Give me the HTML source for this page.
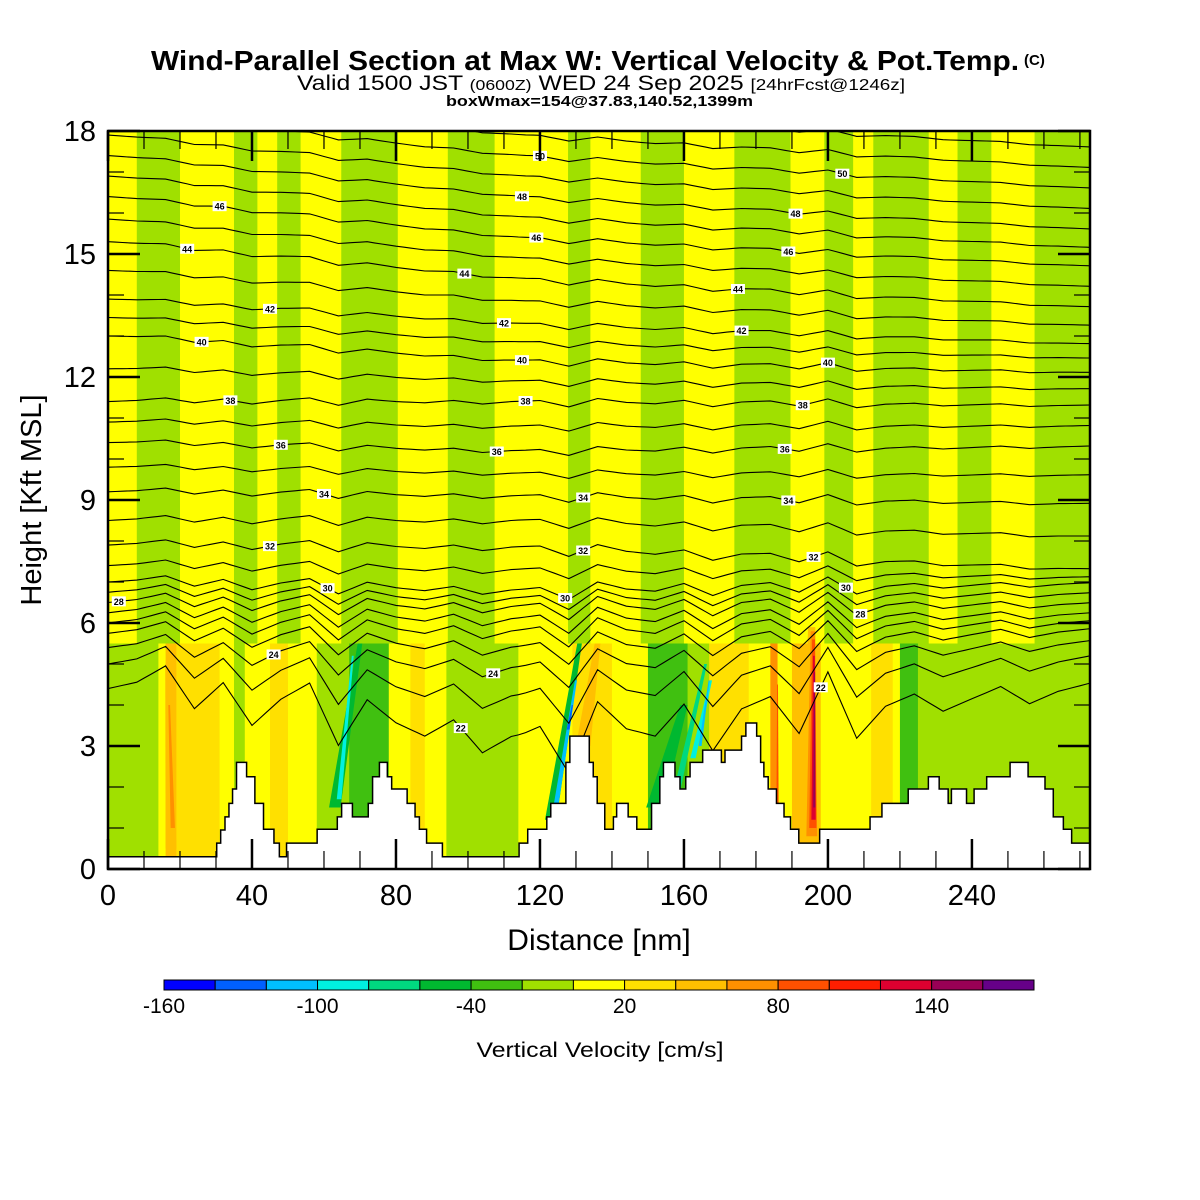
<!DOCTYPE html>
<html><head><meta charset="utf-8"><style>
html,body{margin:0;padding:0;background:#fff;}
svg{display:block;font-family:"Liberation Sans",sans-serif;}
</style></head><body>
<svg id="chart" width="1200" height="1200" viewBox="0 0 1200 1200">
<text x="151" y="70" font-size="28" font-weight="bold" textLength="868" lengthAdjust="spacingAndGlyphs">Wind-Parallel Section at Max W: Vertical Velocity &amp; Pot.Temp.</text>
<text x="1024" y="65" font-size="15" font-weight="bold">(C)</text>
<text x="297" y="90" font-size="21" textLength="608" lengthAdjust="spacingAndGlyphs">Valid 1500 JST <tspan font-size="15">(0600Z)</tspan> WED 24 Sep 2025 <tspan font-size="16">[24hrFcst@1246z]</tspan></text>
<text x="446" y="106" font-size="15" font-weight="bold" textLength="307" lengthAdjust="spacingAndGlyphs">boxWmax=154@37.83,140.52,1399m</text>
<defs><clipPath id="pc"><rect x="108" y="131" width="982" height="738"/></clipPath></defs>
<g id="plot" clip-path="url(#pc)"></g>
<g id="axes"></g>
<text x="599" y="950" text-anchor="middle" font-size="30">Distance [nm]</text>
<text transform="translate(41,500) rotate(-90)" text-anchor="middle" font-size="29">Height [Kft MSL]</text>
<g id="cbar"></g>
<text x="600" y="1057" text-anchor="middle" font-size="21" textLength="247" lengthAdjust="spacingAndGlyphs">Vertical Velocity [cm/s]</text>
</svg>
<script>
// ---- data ----
const colors=["#0000ff","#0060ff","#00c0ff","#00f0e0","#00d880","#00b830","#40c010","#a0e000","#ffff00","#ffe000","#ffc000","#ff9000","#ff5000","#ff1e00","#dd0030","#990055","#660088"];
const cbarTicks=[-160,-100,-40,20,80,140];
const xTicks=[0,40,80,120,160,200,240];
const yTicks=[0,3,6,9,12,15,18];
const upperStarts=[0,8,20,35,41.5,47,53.5,64.8,80.5,94.4,107.4,127.8,134,148,160,174,189.6,199,207,212.6,228,236,245.4,257.4];
const upperVals=[10,-10,10,-10,10,-10,10,-10,10,-10,10,-10,10,-10,10,-10,10,-10,10,-10,10,-10,10,-10];
const lowerStarts=[0,14,16,19,31,35,38,45,50,58,67,78,84,88,94,114,129,140,150,161,167,178,184,186,190,198,212,218,220,225];
const lowerVals=[-10,10,50,30,10,-10,10,30,10,-10,-30,10,30,10,-10,10,30,10,-30,-10,30,10,70,10,50,10,30,10,-30,-10];
const plumeBotNm=[17.5,18,63,64.2,123,124.2,127.8,152,157,162.5,164.5,132,185,186,194.8,195.5,195.8,196,196.2];
const plumeBotK=[0.5,1.0,1.5,1.7,1.2,1.4,3.4,1.5,1.5,2.7,3.0,3.0,1.5,1.6,0.6,0.8,1.0,1.2,1.5];
const plumeTopNm=[16.5,17,70,68,131,130,129,160,166,167.5,167,136,185,186,195.5,195.8,196,196.1,196.3];
const plumeTopK=[5.0,4.0,5.5,5.2,5.5,4.6,4.0,4.0,5.0,4.6,4.6,5.5,4.8,4.5,5.9,5.8,5.6,5.2,4.8];
const plumeW=[3,1.2,3.2,1.3,3.2,1.4,0.8,5,2,1.5,0.8,4,1.5,0.6,5,3,2,1.2,0.6];
const plumeVals=[50,70,-50,-90,-50,-110,-130,-50,-70,-90,-110,50,70,90,50,70,90,130,150];
const terrStarts=[0,30.2,31.3,32.5,33.6,34.6,35.7,38.5,40.8,43.2,46.1,47.6,49.6,58.1,63.7,64.9,67.9,72.3,73.5,75.4,77.6,78.8,83.1,85.3,86.5,88.5,92.9,114.2,116.6,121.9,123,127.2,128.3,133.7,134.8,135.9,138,140.4,141.3,144.5,146.9,151,153.3,154.3,157.5,158.9,160.5,161.7,165.2,170.4,171.4,176,177.2,180.2,181.3,182.2,183.4,185.7,187.8,189.6,191.9,197.7,211.7,215,222.3,227.9,230.9,233.4,234.3,238.5,240.6,244.1,250.6,255.6,260.3,262.6,265.4,267.7];
const terrHeights=[0.3,0.63,0.95,1.27,1.6,1.95,2.6,2.25,1.6,0.97,0.63,0.3,0.63,0.97,1.27,1.6,1.27,1.6,2.25,2.6,2.25,1.95,1.6,1.27,0.97,0.63,0.3,0.63,0.97,1.27,1.6,2.6,3.24,2.6,2.25,1.6,0.97,1.27,1.6,1.27,0.97,1.6,2.25,2.6,2.25,1.95,2.25,2.6,2.9,2.6,2.9,3.24,3.56,3.24,2.6,2.25,1.95,1.6,1.27,0.97,0.63,0.97,1.27,1.6,1.95,2.25,1.95,1.6,1.95,1.6,1.95,2.25,2.6,2.25,1.95,1.27,0.97,0.63];
const thetaLevels=[22,23,24,25,26,27,28,29,30,31,32,33,34,35,36,37,38,39,40,41,42,43,44,45,46,47,48,49,50,51,52,53];
const thetaLeft=[4.4,5.0,5.4,5.75,6.0,6.25,6.5,6.75,7.0,7.4,7.9,8.5,9.2,9.8,10.4,10.9,11.4,12.2,13.0,13.45,13.9,14.6,15.3,15.85,16.4,16.9,17.4,17.9,18.4,18.9,19.4,19.9];
const thetaMid=[3.2,4.2,4.9,5.4,5.8,6.1,6.4,6.6,6.8,7.3,7.85,8.5,9.1,9.65,10.2,10.8,11.4,11.9,12.4,12.85,13.3,13.85,14.4,14.9,15.4,15.9,16.4,16.9,17.4,17.9,18.4,18.9];
const thetaRight=[4.4,5.1,5.5,5.8,6.0,6.2,6.45,6.7,6.95,7.1,7.3,8.1,8.9,9.6,10.3,10.8,11.3,11.7,12.1,12.45,12.8,13.25,13.7,14.2,14.7,15.15,15.6,16.1,16.6,17.1,17.6,18.1];
const thetaAmp=[2.4,1.8,1.3,1.1,1.0,0.9,0.8,0.7,0.6,0.5,0.45,0.4,0.35,0.3,0.3,0.3,0.3,0.28,0.28,0.25,0.25,0.25,0.25,0.22,0.22,0.22,0.2,0.2,0.2,0.2,0.2,0.2];
const wiggle=[0,0.1,0.3,-0.1,0.2,-0.2,0.1,0.3,-0.3,0.2,0,-0.1,0.1,-0.2,0,0.1,-0.4,0.3,0,-0.1,0.2,-0.3,0.1,0.2,-0.2,0.4,-0.3,0,0.1,-0.1,0,0.1,-0.1,0,0.05];
const labelTheta=[28,46,44,42,40,38,36,34,32,30,24,22,50,48,46,44,42,40,38,36,34,32,30,24,50,48,46,44,42,40,38,36,34,32,30,28,22];
const labelNm=[3,31,22,45,26,34,48,60,45,61,46,98,120,115,119,99,110,115,116,108,132,132,127,107,204,191,189,175,176,200,193,188,189,196,205,209,198];

// ---- scales ----
const X0=108,X1=1090,Y0=869,Y1=131,XMAX=272.8,YMAX=18;
const sx=v=>X0+v/XMAX*(X1-X0);
const sy=v=>Y0-v/YMAX*(Y0-Y1);
const colorOf=v=>colors[Math.max(0,Math.min(16,Math.floor((v+160)/20)))];
const NS="http://www.w3.org/2000/svg";
function mk(tag,attrs,parent){const e=document.createElementNS(NS,tag);for(const k in attrs)e.setAttribute(k,attrs[k]);parent.appendChild(e);return e;}
const plot=document.getElementById('plot');

let r=mk('rect',{x:X0,y:Y1,width:X1-X0,height:Y0-Y1,fill:colors[7]},plot);


upperStarts.forEach((s,i)=>{const e=i+1<upperStarts.length?upperStarts[i+1]:XMAX;
 const b=mk('rect',{x:sx(s),y:sy(18),width:sx(e)-sx(s)+0.5,height:sy(5.5)-sy(18),fill:colorOf(upperVals[i])},plot);
 
 });
lowerStarts.forEach((s,i)=>{const e=i+1<lowerStarts.length?lowerStarts[i+1]:XMAX;
 const b=mk('rect',{x:sx(s),y:sy(5.5),width:sx(e)-sx(s)+0.5,height:sy(0)-sy(5.5),fill:colorOf(lowerVals[i])},plot);
 
 });
plumeVals.forEach((v,i)=>{const w=plumeW[i]/2;
 const pts=[[plumeBotNm[i]-w,plumeBotK[i]],[plumeBotNm[i]+w,plumeBotK[i]],[plumeTopNm[i]+w*0.4,plumeTopK[i]],[plumeTopNm[i]-w*0.4,plumeTopK[i]]];
 const p=mk('polygon',{points:pts.map(q=>sx(q[0])+','+sy(q[1])).join(' '),fill:colorOf(v)},plot);
 
 });

function wig(x){const t=x/8,i=Math.min(Math.floor(t),wiggle.length-2),f=t-i;return wiggle[i]*(1-f)+wiggle[i+1]*f;}
function thetaH(li,x){const base=x<115?thetaLeft[li]+(thetaMid[li]-thetaLeft[li])*x/115:thetaMid[li]+(thetaRight[li]-thetaMid[li])*(x-115)/(XMAX-115);return base+wig(x)*thetaAmp[li];}
thetaLevels.forEach((t,li)=>{let d='';for(let x=0;x<=XMAX+2;x+=2){d+=(x?'L':'M')+sx(Math.min(x,XMAX)).toFixed(1)+','+sy(thetaH(li,Math.min(x,XMAX))).toFixed(1);}
 const p=mk('path',{d:d,fill:'none',stroke:'#000','stroke-width':1.1},plot);
 
 });

let td='M'+sx(0)+','+sy(0);
terrStarts.forEach((s,i)=>{const e=i+1<terrStarts.length?terrStarts[i+1]:XMAX;td+='L'+sx(s)+','+sy(terrHeights[i])+'L'+sx(e)+','+sy(terrHeights[i]);});
td+='L'+sx(XMAX)+','+sy(0)+'Z';
const terr=mk('path',{d:td,fill:'#fff',stroke:'#000','stroke-width':1.5},plot);



labelTheta.forEach((t,i)=>{const li=thetaLevels.indexOf(t);const x=sx(labelNm[i]),y=sy(thetaH(li,labelNm[i]));
 const g=mk('g',{},plot);
 
 
 mk('rect',{x:x-7,y:y-5,width:14,height:10,fill:'#fff'},g);
 const tx=mk('text',{x:x,y:y+3.5,'text-anchor':'middle','font-size':9,'font-weight':'bold'},g);tx.textContent=t;});

const axes=document.getElementById('axes');
let fr=mk('rect',{x:X0,y:Y1,width:X1-X0,height:Y0-Y1,fill:'none',stroke:'#000','stroke-width':2.5},axes);


for(let v=0;v<=270;v+=10){const L=v%40===0?30:18;
 mk('line',{x1:sx(v),x2:sx(v),y1:Y0,y2:Y0-L,stroke:'#000','stroke-width':v%40===0?2.5:1.2},axes);
 mk('line',{x1:sx(v),x2:sx(v),y1:Y1,y2:Y1+L,stroke:'#000','stroke-width':v%40===0?2.5:1.2},axes);}
for(let v=0;v<=18;v++){const L=v%3===0?32:16;
 mk('line',{x1:X0,x2:X0+L,y1:sy(v),y2:sy(v),stroke:'#000','stroke-width':v%3===0?2.5:1.2},axes);
 mk('line',{x1:X1,x2:X1-L,y1:sy(v),y2:sy(v),stroke:'#000','stroke-width':v%3===0?2.5:1.2},axes);}
xTicks.forEach(v=>{const t=mk('text',{x:sx(v),y:905,'text-anchor':'middle','font-size':29},axes);t.textContent=v;
 
 });
yTicks.forEach(v=>{const t=mk('text',{x:96,y:sy(v)+10,'text-anchor':'end','font-size':29},axes);t.textContent=v;
 
 });

const cb=document.getElementById('cbar');const CB0=164,CB1=1034,bw=(CB1-CB0)/colors.length;
colors.forEach((c,i)=>{const b=mk('rect',{x:CB0+i*bw,y:980,width:bw,height:10,fill:c,stroke:'#000','stroke-width':1},cb);
 
 });
cbarTicks.forEach(v=>{const t=mk('text',{x:CB0+(v+160)/20*bw,y:1013,'text-anchor':'middle','font-size':21},cb);t.textContent=v;
 
 });
</script>
</body></html>
